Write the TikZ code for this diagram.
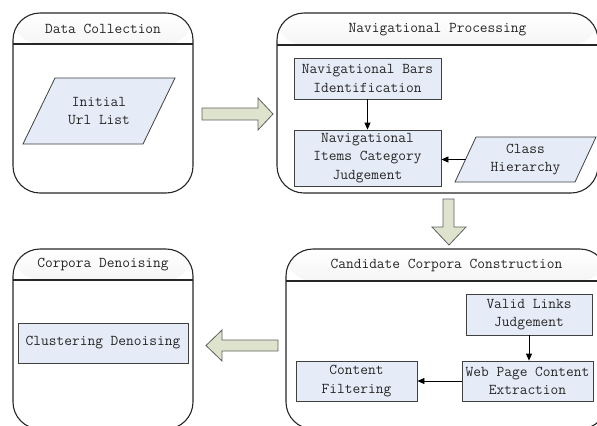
\documentclass[tikz,border=0pt]{standalone}
\usepackage{fontspec}
\usetikzlibrary{arrows.meta}
\definecolor{boxblue}{RGB}{230,236,247}
\definecolor{arrowfill}{RGB}{222,227,205}
\definecolor{arrowdraw}{RGB}{95,95,95}
\tikzset{
  txt/.style={font=\ttfamily\fontsize{15bp}{18.7bp}\selectfont, align=center, inner sep=0pt, text=black!85},
  stage/.style={draw=black!85, line width=1.1bp, rounded corners=27bp, inner sep=0pt,
    path picture={
      \shade[top color=white, bottom color=black!22]
        (path picture bounding box.north west) rectangle ([yshift=-#1]path picture bounding box.north east);
      \draw[line width=1.1bp, black!85]
        ([yshift=-#1]path picture bounding box.north west) -- ([yshift=-#1]path picture bounding box.north east);
    }},
  pbox/.style={draw=black!75, fill=boxblue, line width=0.8bp},
  procbox/.style={pbox, txt},
  conn/.style={draw=black, line width=0.8bp, -{Triangle[length=7bp,width=6bp]}},
  blockarrow/.style={draw=arrowdraw, fill=arrowfill, line width=0.8bp, line join=miter},
}
\begin{document}
\begin{tikzpicture}[x=1bp,y=-1bp]
\useasboundingbox (0,0) rectangle (597,425);
\clip (0,0) rectangle (597,425);

% stage containers
\node[stage=31bp, minimum width=180bp, minimum height=180bp] (dc) at (103,103) {};
\node[stage=32bp, minimum width=321bp, minimum height=180bp] (np) at (437.5,103) {};
\node[stage=31bp, minimum width=180bp, minimum height=180bp] (cd) at (103,339) {};
\node[stage=32bp, minimum width=321bp, minimum height=180bp] (cc) at (446.5,339) {};

% titles
\node[txt] (dct) at (103,29) {Data Collection};
\node[txt] (npt) at (437.5,29.5) {Navigational Processing};
\node[txt] (cdt) at (103,264.5) {Corpora Denoising};
\node[txt] (cct) at (446.5,265) {Candidate Corpora Construction};

% Data Collection content
\draw[pbox] (55,78) -- (175,78) -- (143,144) -- (23,144) -- cycle;
\node[txt] (iu) at (99,111) {Initial\\Url List};

% Navigational Processing content
\node[procbox, minimum width=147bp, minimum height=41bp] (nb) at (367.5,78.5) {Navigational Bars\\Identification};
\node[procbox, minimum width=147bp, minimum height=56bp] (nj) at (367.5,158) {Navigational\\Items Category\\Judgement};
\draw[pbox] (476,137) -- (596,137) -- (575,182) -- (455,182) -- cycle;
\node[txt] (ch) at (525.5,159.5) {Class\\Hierarchy};
\coordinate (chl) at (465.5,159.5);
\draw[conn] (nb.south) -- (nj.north);
\draw[conn] (chl) -- (nj.east |- chl);

% Candidate Corpora Construction content
\node[procbox, minimum width=126bp, minimum height=41bp] (vl) at (529,314.5) {Valid Links\\Judgement};
\node[procbox, minimum width=131bp, minimum height=40bp] (we) at (527.5,381) {Web Page Content\\Extraction};
\node[procbox, minimum width=121bp, minimum height=40bp] (cf) at (356.5,381) {Content\\Filtering};
\draw[conn] (vl.south) -- (vl.south |- we.north);
\draw[conn] (we.west) -- (cf.east);

% Corpora Denoising content
\node[procbox, minimum width=170bp, minimum height=40bp] (cl) at (103,343) {Clustering Denoising};

% block arrows between stages
\draw[blockarrow] (202,108) -- (258,108) -- (258,98) -- (273,114) -- (258,130) -- (258,120) -- (202,120) -- cycle;
\draw[blockarrow] (443,199) -- (454,199) -- (454,227) -- (466,227) -- (449,245) -- (432,227) -- (443,227) -- cycle;
\draw[blockarrow] (278,340) -- (222,340) -- (222,330) -- (206,345.5) -- (222,361) -- (222,351) -- (278,351) -- cycle;
\end{tikzpicture}
\end{document}
